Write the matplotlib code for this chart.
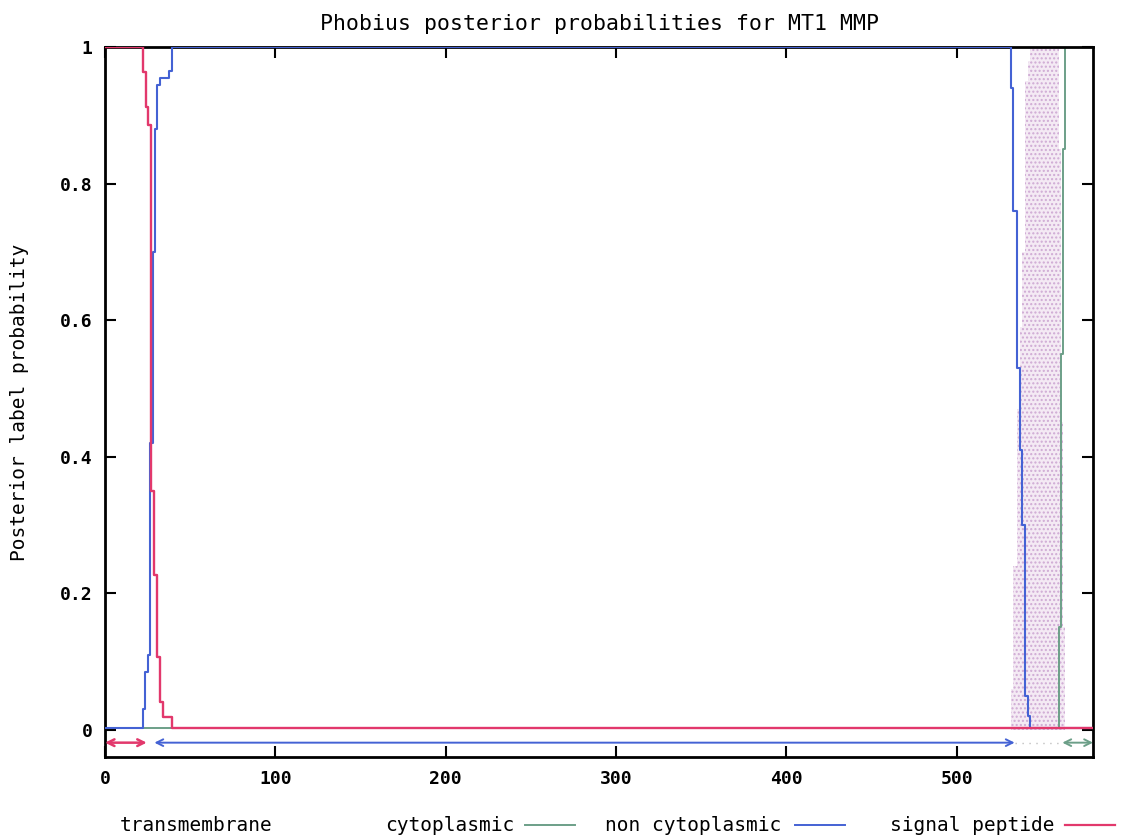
import matplotlib
matplotlib.use("Agg")
import matplotlib.pyplot as plt
from matplotlib.lines import Line2D

# ---------------- data ----------------
title = "Phobius posterior probabilities for MT1 MMP"
ylabel = "Posterior label probability"
seq_len = 580

xticks = [0, 100, 200, 300, 400, 500]
yticks = [0, 0.2, 0.4, 0.6, 0.8, 1.0]
ytick_labels = ["0", "0.2", "0.4", "0.6", "0.8", "1"]

# step curves (x = residue where value changes, value held to next x)
signal_x = [0, 22.3, 24.1, 25.2, 27.0, 28.5, 30.5, 32.3, 34.0, 39.3, 580]
signal_p = [1.0, 0.963, 0.912, 0.886, 0.35, 0.227, 0.107, 0.040, 0.018, 0.002, 0.002]

noncyto_x = [0, 22.3, 23.5, 25.2, 26.7, 28.0, 29.5, 30.8, 32.5, 37.5, 39.3,
             531.9, 533.1, 535.4, 537.2, 538.3, 540.0, 541.8, 543.0, 580]
noncyto_p = [0.003, 0.03, 0.085, 0.11, 0.42, 0.70, 0.88, 0.945, 0.955, 0.965, 1.0,
             0.94, 0.76, 0.53, 0.41, 0.30, 0.05, 0.02, 0.003, 0.003]

cyto_x = [0, 560.3, 561.5, 562.5, 563.5, 580]
cyto_p = [0.002, 0.15, 0.55, 0.85, 1.0, 1.0]

tm_x = [0, 531.9, 533.1, 535.4, 537.2, 538.3, 540.0, 541.8, 543.0, 560.3, 561.5, 562.5, 563.5, 580]
tm_p = [0.0, 0.06, 0.24, 0.47, 0.59, 0.70, 0.95, 0.98, 1.0, 0.85, 0.45, 0.15, 0.0, 0.0]

# predicted topology segments (start, end)
sp_segment = (0, 24.5)
noncyto_segment = (29, 534)
tm_segment = (534, 561)
cyto_segment = (562, 580)

legend_labels = ["transmembrane", "cytoplasmic", "non cytoplasmic", "signal peptide"]

# ---------------- style ----------------
RED = "#e2386c"
BLUE = "#4462d4"
GREEN = "#6c9f88"
FONT = "DejaVu Sans Mono"

fig = plt.figure(figsize=(11.25, 8.38), dpi=100)
ax = fig.add_axes([105 / 1125, 1 - 757 / 838, (1093 - 105) / 1125, (757 - 47) / 838])

# transmembrane fill (speckled light region)
ax.fill_between(tm_x, 0, tm_p, step="post", facecolor="#f4eaf4",
                edgecolor="#cfaad4", hatch="....", linewidth=0, zorder=1)

ax.plot(cyto_x, cyto_p, drawstyle="steps-post", color=GREEN, lw=1.4, zorder=2)
ax.plot(noncyto_x, noncyto_p, drawstyle="steps-post", color=BLUE, lw=1.5, zorder=3)
ax.plot(signal_x, signal_p, drawstyle="steps-post", color=RED, lw=1.7, zorder=4)

# topology arrows
yarr = -0.019
def seg_arrow(seg, color, ls="-", lw=1.4):
    ax.annotate("", xy=(seg[1], yarr), xytext=(seg[0], yarr),
                arrowprops=dict(arrowstyle="<->", color=color, lw=lw, ls=ls,
                                shrinkA=0, shrinkB=0, mutation_scale=12),
                zorder=5)

seg_arrow(sp_segment, RED, lw=1.8)
seg_arrow(noncyto_segment, BLUE)
ax.plot(tm_segment, [yarr, yarr], color="#c0c0c0", lw=1.0, ls=(0, (1, 4)), zorder=5)
seg_arrow(cyto_segment, GREEN)

ax.set_xlim(0, seq_len)
ax.set_ylim(-0.04, 1.0)
ax.set_xticks(xticks)
ax.set_xticklabels([str(t) for t in xticks], fontfamily=FONT, fontsize=13, fontweight="bold")
ax.set_yticks(yticks)
ax.set_yticklabels(ytick_labels, fontfamily=FONT, fontsize=13, fontweight="bold")
ax.tick_params(direction="in", length=8, width=1.5, top=True, right=True, pad=9)
for s in ax.spines.values():
    s.set_linewidth(2)
    s.set_color("black")

ax.set_title(title, fontfamily=FONT, fontsize=15.5, pad=12)
ax.set_ylabel(ylabel, fontfamily=FONT, fontsize=14, labelpad=22)

# legend row at the bottom (gnuplot style: text then sample)
ly = 1 - 825 / 838
fig.text(120 / 1125, ly, legend_labels[0], fontfamily=FONT, fontsize=14, va="center")
fig.text(385 / 1125, ly, legend_labels[1], fontfamily=FONT, fontsize=14, va="center")
fig.add_artist(Line2D([525 / 1125, 575 / 1125], [ly, ly], color=GREEN, lw=1.4))
fig.text(605 / 1125, ly, legend_labels[2], fontfamily=FONT, fontsize=14, va="center")
fig.add_artist(Line2D([795 / 1125, 845 / 1125], [ly, ly], color=BLUE, lw=1.4))
fig.text(890 / 1125, ly, legend_labels[3], fontfamily=FONT, fontsize=14, va="center")
fig.add_artist(Line2D([1065 / 1125, 1115 / 1125], [ly, ly], color=RED, lw=1.6))

fig.savefig("out.png", dpi=100)
